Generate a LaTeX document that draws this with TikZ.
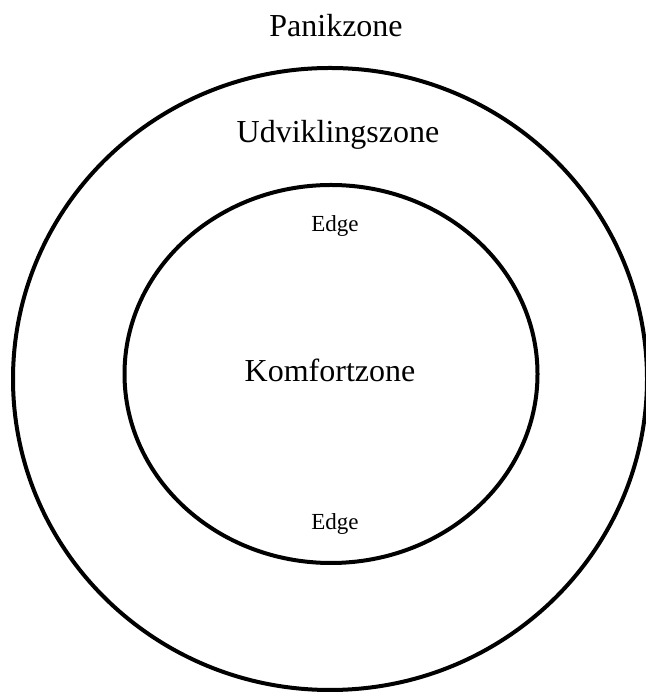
\documentclass[tikz,border=0pt]{standalone}
\usepackage{fontspec}
\setmainfont{Liberation Serif}
\tikzset{
  zone/.style={anchor=base,inner sep=0pt,font=\fontsize{32}{36}\selectfont},
  edgelabel/.style={anchor=base,inner sep=0pt,font=\fontsize{23}{26}\selectfont},
  ring/.style={line width=4pt}
}
\begin{document}
\begin{tikzpicture}[x=1pt,y=1pt]
\useasboundingbox (0,0) rectangle (645,692);
%rings
\draw[ring] (330,313) ellipse [x radius=317,y radius=311];
\draw[ring] (331,318) ellipse [x radius=206.5,y radius=189];
%labels
\node[zone] (panik) at (336,655) {Panikzone};
\node[zone] (udvikling) at (338,549) {Udviklingszone};
\node[zone] (komfort) at (330,310) {Komfortzone};
\node[edgelabel] (edgetop) at (335,460) {Edge};
\node[edgelabel] (edgebottom) at (335,162) {Edge};
\end{tikzpicture}
\end{document}
